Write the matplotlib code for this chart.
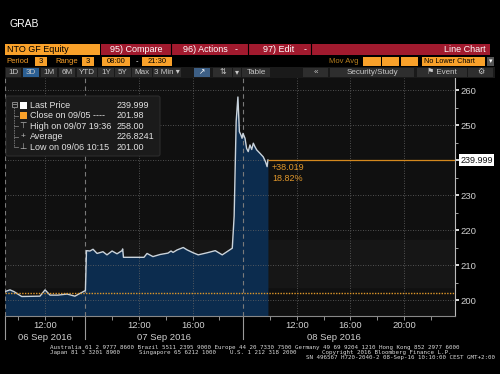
import matplotlib.pyplot as plt
import matplotlib.transforms as mtransforms
from matplotlib.patches import Rectangle, FancyBboxPatch

plt.rcParams['font.family'] = ['Liberation Sans', 'DejaVu Sans']

# intraday readings, time of day in hours
sep06_time = [9.0, 9.37, 9.67, 10.25, 11.61, 11.99, 12.36, 12.96, 13.63, 14.22, 14.6, 15.0]
sep06_price = [202.4, 202.9, 202.4, 201.0, 201.1, 202.9, 201.4, 201.4, 201.7, 201.1, 201.9, 202.7]

sep07_time = [8.0, 8.08, 8.34, 8.57, 8.87, 9.31, 9.61, 9.99, 10.36, 10.73, 10.78, 10.84,
              12.37, 12.6, 13.04, 13.57, 14.16, 14.39, 14.54, 14.84, 15.3, 15.6, 16.04,
              16.42, 17.09, 17.69, 18.21, 18.96, 19.1, 19.25, 19.38, 19.49, 19.61, 19.69, 19.76]
sep07_price = [202.7, 214.1, 214.0, 214.5, 213.3, 213.8, 212.9, 214.0, 213.2, 214.1, 214.6, 212.2,
               212.2, 213.3, 212.4, 213.0, 213.4, 214.0, 213.6, 214.3, 215.0, 214.3, 213.5,
               212.9, 213.5, 214.1, 212.9, 214.8, 224.0, 251.0, 258.0, 248.1, 247.1, 246.2, 247.6]

sep08_time = [8.13, 8.25, 8.37, 8.5, 8.63, 8.75, 8.87, 9.0, 9.25, 9.49, 9.66, 9.78, 9.84]
sep08_price = [246.2, 243.3, 242.4, 244.3, 243.0, 244.8, 243.8, 242.9, 241.9, 240.9, 239.5, 238.1, 239.999]

prev_close = 201.98
last_price = 239.999
high_price = 258.00
average_price = 226.8241
low_price = 201.00

# the chart squeezes out the hours between sessions
session_start = {6: 9.0, 7: 8.0, 8: 8.0}
session_pos = {6: 0.0, 7: 6.0, 8: 17.78}
x_end = 33.58


def xpos(day, hour):
    return session_pos[day] + hour - session_start[day]


xs = ([xpos(6, h) for h in sep06_time] + [xpos(7, h) for h in sep07_time]
      + [xpos(8, h) for h in sep08_time])
ys = sep06_price + sep07_price + sep08_price

fig = plt.figure(figsize=(5, 3.74), dpi=100, facecolor='black')
ax = fig.add_axes([5 / 500, 58 / 374, 450 / 500, 238 / 374])
ax.set_facecolor('#101010')
ax.set_xlim(0, x_end)
ax.set_ylim(195.43, 263.43)

ax.axhspan(203.7, 217.1, color='#161616', zorder=0)
ax.fill_between(xs, ys, 195.43, color='#0c2c4e', zorder=1, lw=0)
ax.plot(xs, ys, color='#c9d3dc', lw=1, zorder=3)

# gridlines
for v in range(200, 261, 10):
    ax.axhline(v, color='#666666', lw=0.6, ls=(0, (1, 2)), zorder=2)
labelled = [(6, 12), (7, 12), (7, 16), (8, 12), (8, 16), (8, 20)]
for d, h in labelled:
    ax.axvline(xpos(d, h), color='#666666', lw=0.6, ls=(0, (1, 2)), zorder=2)
for d in (6, 7, 8):
    ax.axvline(session_pos[d], color='#7a7a7a', lw=0.8, ls=(0, (4, 3)), zorder=2)
    ax.axvline(session_pos[d], ymin=-0.095, ymax=0, color='#9a9a9a', lw=0.8, clip_on=False)

ax.axhline(prev_close, color='#e0982a', lw=1.0, ls=(0, (1, 1)), zorder=4)
x_last = xs[-1]
ax.hlines(last_price, x_last, x_end, color='#d4881e', lw=0.9, zorder=4)

change = last_price - prev_close
pct = change / prev_close * 100
ax.annotate(f'+{change:.3f}\n{pct:.2f}%', xy=(x_last, last_price), xytext=(3, -2),
            textcoords='offset points', va='top', ha='left', color='#e0962a',
            fontsize=6.5, linespacing=1.25)

trans = mtransforms.blended_transform_factory(ax.transAxes, ax.transData)
ax.text(1.012, last_price, f'{last_price:.3f}', transform=trans, va='center', ha='left',
        color='#111111', fontsize=6.5,
        bbox=dict(boxstyle='square,pad=0.15', fc='white', ec='none'))

# axes; the 240 label sits under the last price tag
yt = list(range(200, 261, 10))
ax.yaxis.tick_right()
ax.set_yticks(yt, ['' if v == 240 else str(v) for v in yt])
ax.set_yticks(range(205, 261, 10), minor=True)
ax.tick_params(axis='y', which='major', colors='white', labelcolor='#d0d0d0',
               labelsize=6.8, length=3, width=1.2, pad=1)
ax.tick_params(axis='y', which='minor', colors='#bbbbbb', length=2, width=0.6)

ax.set_xticks([xpos(d, h) for d, h in labelled], [f'{h}:00' for d, h in labelled])
minor = ([xpos(6, h) for h in (10, 14)] + [xpos(7, h) for h in (10, 14, 18)]
         + [xpos(8, h) for h in (10, 14, 18, 22)])
ax.set_xticks(minor, minor=True)
ax.tick_params(axis='x', which='major', colors='#aaaaaa', labelcolor='#d0d0d0',
               labelsize=6.8, length=3, width=0.6, pad=0.5)
ax.tick_params(axis='x', which='minor', colors='#aaaaaa', length=3, width=0.6)

day_labels = ['06 Sep 2016', '07 Sep 2016', '08 Sep 2016']
day_mid = [(session_pos[6] + session_pos[7]) / 2, (session_pos[7] + session_pos[8]) / 2,
           xpos(8, (8 + 21.5) / 2)]
tx = mtransforms.blended_transform_factory(ax.transData, ax.transAxes)
for lab, m in zip(day_labels, day_mid):
    ax.text(m, -0.09, lab, transform=tx, ha='center', va='center', color='#d0d0d0', fontsize=6.8)

for s in ('top', 'left'):
    ax.spines[s].set_visible(False)
ax.spines['right'].set_color('#bbbbbb')
ax.spines['bottom'].set_color('#888888')
ax.spines['bottom'].set_linewidth(0.8)

# overlay for terminal chrome
top = fig.add_axes([0, 0, 1, 1], zorder=5)
top.set_xlim(0, 500)
top.set_ylim(374, 0)
top.axis('off')
top.patch.set_alpha(0)


def box(x0, y0, x1, y1, color):
    top.add_patch(Rectangle((x0, y0), x1 - x0, y1 - y0, facecolor=color, edgecolor='none'))


orange = '#f9a12a'
top.text(10, 24, 'GRAB', color='white', fontsize=7.5, va='center')

box(5, 44, 100, 55, orange)
box(101, 44, 490, 55, '#a11a2e')
for sx in (170.5, 247.5, 310.5):
    top.plot([sx, sx], [44, 55], color='black', lw=0.8)
top.text(7, 49.7, 'NTO GF Equity', color='black', fontsize=6.5, va='center')
top.text(136, 49.7, '95) Compare', color='white', fontsize=6.5, va='center', ha='center')
top.text(205, 49.7, '96) Actions', color='white', fontsize=6.5, va='center', ha='center')
top.text(236, 49.7, '-', color='white', fontsize=6.5, va='center', ha='center')
top.text(279, 49.7, '97) Edit', color='white', fontsize=6.5, va='center', ha='center')
top.text(305, 49.7, '-', color='white', fontsize=6.5, va='center', ha='center')
top.text(486, 49.7, 'Line Chart', color='white', fontsize=6.5, va='center', ha='right')

r2 = 61.7
top.text(6, r2, 'Period', color=orange, fontsize=5.5, va='center')
box(35, 57, 47, 66, orange)
top.text(41, r2, '3', color='black', fontsize=5.5, va='center', ha='center')
top.text(55, r2, 'Range', color=orange, fontsize=5.5, va='center')
box(82, 57, 94, 66, orange)
top.text(88, r2, '3', color='black', fontsize=5.5, va='center', ha='center')
box(102, 57, 130, 66, orange)
top.text(116, r2, '08:00', color='black', fontsize=5.5, va='center', ha='center')
top.text(137, r2, '-', color='white', fontsize=5.5, va='center', ha='center')
box(142, 57, 172, 66, orange)
top.text(157, r2, '21:30', color='black', fontsize=5.5, va='center', ha='center')
top.text(329, r2, 'Mov Avg', color='#b8801e', fontsize=5.5, va='center')
for a, b in ((363, 381), (382, 399), (401, 418)):
    box(a, 57, b, 66, orange)
box(422, 57, 485, 66, orange)
top.text(424, r2, 'No Lower Chart', color='black', fontsize=5.2, va='center')
box(487, 57, 494, 66, '#555555')
top.text(490.5, r2, '▾', color='white', fontsize=5, va='center', ha='center')

box(5, 67, 495, 78, '#1a1a1a')
buttons = [('1D', 6, 21), ('3D', 23, 39), ('1M', 41, 57), ('6M', 59, 75), ('YTD', 77, 97),
           ('1Y', 98, 114), ('5Y', 115, 131), ('Max', 132, 152), ('3 Min ▾', 153, 181),
           ('⇅', 213, 232), ('▾', 233, 241), ('Table', 242, 270), ('«', 303, 328),
           ('Security/Study', 330, 414), ('⚑ Event', 417, 467), ('⚙', 468, 493)]
for lab, a, b in buttons:
    box(a, 68, b, 77, '#2b5f93' if lab == '3D' else '#2e2e2e')
    top.text((a + b) / 2, 72.7, lab, color='#c8c8c8', fontsize=5.8, va='center', ha='center')
box(194, 68, 210, 77, '#3d5f85')
top.text(202, 72.7, '↗', color='white', fontsize=5.5, va='center', ha='center')

# legend panel
top.add_patch(FancyBboxPatch((6, 96), 154, 60, boxstyle='round,pad=0,rounding_size=2',
                             facecolor='#1b1b1b', edgecolor='#2c2c2c', lw=0.8))
rows = [('Last Price', f'{last_price:.3f}'),
        ('Close on 09/05 ----', f'{prev_close:.2f}'),
        ('High on 09/07 19:36', f'{high_price:.2f}'),
        ('Average', f'{average_price:.4f}'),
        ('Low on 09/06 10:15', f'{low_price:.2f}')]
row_y = [105, 115.7, 126.2, 136.7, 147.3]
top.plot([14, 14], [107, 147], color='#777777', lw=0.6, ls=(0, (2, 1)))
top.add_patch(Rectangle((11.5, 101.5), 5, 5, facecolor='#1b1b1b', edgecolor='#999999', lw=0.6))
top.plot([12.5, 15.5], [104, 104], color='#999999', lw=0.6)
for (lab, val), yy in zip(rows, row_y):
    top.text(30, yy, lab, color='#e2e2e2', fontsize=6.5, va='center')
    top.text(117, yy, val, color='#e2e2e2', fontsize=6.5, va='center')
top.add_patch(Rectangle((19.5, 101.5), 7, 7, facecolor='white', edgecolor='none'))
top.add_patch(Rectangle((19.5, 112.2), 7, 7, facecolor=orange, edgecolor='none'))
top.text(23, row_y[2], '⊤', color='#bbbbbb', fontsize=6, va='center', ha='center')
top.text(23, row_y[3], '+', color='#bbbbbb', fontsize=6, va='center', ha='center')
top.text(23, row_y[4], '⊥', color='#bbbbbb', fontsize=6, va='center', ha='center')
for yy in row_y[1:]:
    top.plot([14, 18], [yy, yy], color='#777777', lw=0.6)

# footer
mono = dict(family='DejaVu Sans Mono', fontsize=4.2, color='#d8d8d8', va='center')
top.text(50, 347.5, 'Australia 61 2 9777 8600 Brazil 5511 2395 9000 Europe 44 20 7330 7500 '
         'Germany 49 69 9204 1210 Hong Kong 852 2977 6000', **mono)
top.text(50, 352.8, 'Japan 81 3 3201 8900', **mono)
top.text(139, 352.8, 'Singapore 65 6212 1000', **mono)
top.text(230, 352.8, 'U.S. 1 212 318 2000', **mono)
top.text(322, 352.8, 'Copyright 2016 Bloomberg Finance L.P.', **mono)
top.text(495, 358, 'SN 496567 H720-2040-2 08-Sep-16 10:10:00 CEST GMT+2:00', ha='right', **mono)

fig.savefig('out.png', dpi=100, facecolor='black')
